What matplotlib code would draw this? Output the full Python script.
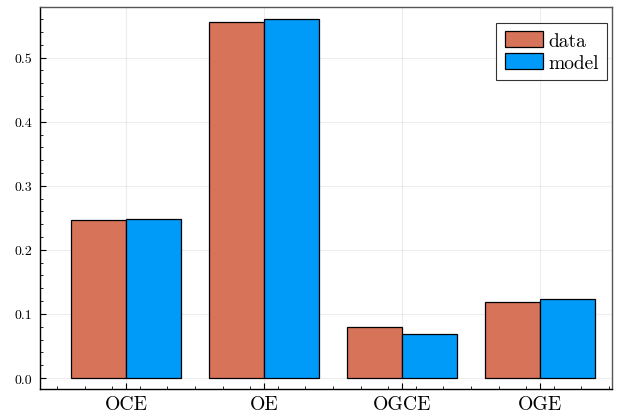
import matplotlib
matplotlib.use("Agg")
import matplotlib.pyplot as plt
import numpy as np
from matplotlib.ticker import MultipleLocator, FormatStrFormatter

categories = ["OCE", "OE", "OGCE", "OGE"]
data_vals = [0.246, 0.556, 0.080, 0.119]
model_vals = [0.248, 0.561, 0.069, 0.123]

plt.rcParams['font.family'] = ['cmr10', 'DejaVu Serif']
plt.rcParams['axes.unicode_minus'] = False
plt.rcParams['mathtext.fontset'] = 'cm'

fig = plt.figure(figsize=(6.17, 4.14), dpi=100)
L, R, T, B = 40, 612, 8, 390
ax = fig.add_axes([L/617, 1 - B/414, (R-L)/617, (B-T)/414])

x = np.arange(len(categories)) + 0.5
w = 0.4
ax.bar(x - w/2, data_vals, width=w, color="#D67358", edgecolor="black", linewidth=0.9, label="data", zorder=3)
ax.bar(x + w/2, model_vals, width=w, color="#009AF9", edgecolor="black", linewidth=0.9, label="model", zorder=3)

ax.set_xlim(0.5 - 86/138, 0.5 + 486/138)
ax.set_ylim(-11/640.7, 371/640.7)

ax.set_xticks(x)
ax.set_xticklabels(categories, fontsize=14.2)
ax.xaxis.set_minor_locator(MultipleLocator(0.2))
ax.yaxis.set_major_locator(MultipleLocator(0.1))
ax.yaxis.set_minor_locator(MultipleLocator(0.02))
ax.yaxis.set_major_formatter(FormatStrFormatter('%.1f'))
ax.tick_params(axis='y', labelsize=10, pad=5.5)

ax.tick_params(which='both', direction='in', top=False, right=False)
ax.tick_params(which='major', length=4, width=0.8)
ax.tick_params(which='minor', length=2.5, width=0.6)
ax.tick_params(axis='x', pad=4.5)

ax.grid(True, which='major', color='#000000', alpha=0.07, linewidth=0.8, zorder=0)
ax.set_axisbelow(True)

for s in ['left', 'bottom']:
    ax.spines[s].set_color('black')
    ax.spines[s].set_linewidth(1.0)
for s in ['top', 'right']:
    ax.spines[s].set_color('#555555')
    ax.spines[s].set_linewidth(1.0)

ax_w, ax_h = R - L, B - T
leg = ax.legend(loc='upper right', bbox_to_anchor=((607 - L)/ax_w, 1 - (24 - T)/ax_h),
                fontsize=14, frameon=True, fancybox=False, edgecolor='black',
                handlelength=2.0, handleheight=0.9, handletextpad=0.25,
                borderpad=0.42, labelspacing=0.15, borderaxespad=0.0)
leg.get_frame().set_linewidth(0.8)

fig.savefig("out.png", dpi=100)
